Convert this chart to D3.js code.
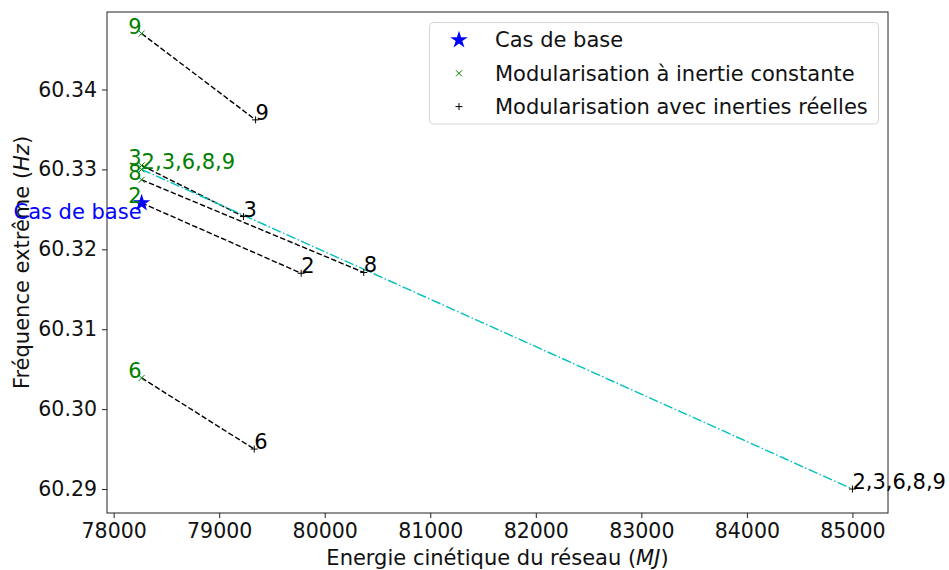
<!doctype html>
<html>
<head>
<meta charset="utf-8">
<title>Fréquence extrême</title>
<script src="https://cdn.jsdelivr.net/npm/d3@7"></script>
<style>
  body { margin: 0; background: #fff; }
  text { font-family: "DejaVu Sans", sans-serif; }
</style>
</head>
<body>
<svg width="949" height="570"></svg>
<script>
// data
var caseNames = ["9", "3", "8", "2", "6"];
var baseEnergy = 78265;                      // energie du cas de base (MJ)
var baseFreq = 60.3258;                      // cas de base (Hz)
var constFreq = [60.3470, 60.3305, 60.3287, 60.3258, 60.3039];   // inertie constante
var realEnergy = [79345, 79230, 80370, 79777, 79332];            // inerties reelles
var realFreq = [60.3362, 60.3241, 60.3171, 60.3170, 60.2950];
var allName = "2,3,6,8,9";
var allConst = { x: 78265, y: 60.3300 };
var allReal = { x: 85000, y: 60.2900 };
var xTicks = [78000, 79000, 80000, 81000, 82000, 83000, 84000, 85000];
var yTicks = [60.29, 60.30, 60.31, 60.32, 60.33, 60.34];
var legendLabels = ["Cas de base", "Modularisation à inertie constante", "Modularisation avec inerties réelles"];

var mLeft = 107, mRight = 888, mTop = 12, mBottom = 513;
var fs = 20.5, fl = 21;
var svg = d3.select("svg");

var x = d3.scaleLinear().domain([77937, 85337]).range([mLeft, mRight]);
var y = d3.scaleLinear().domain([60.287, 60.3497]).range([mBottom, mTop]);

// axes
var xAxis = svg.append("g")
    .attr("transform", "translate(0," + mBottom + ")")
    .call(d3.axisBottom(x).tickValues(xTicks).tickFormat(d3.format("d")).tickSize(5).tickPadding(5));
var yAxis = svg.append("g")
    .attr("transform", "translate(" + mLeft + ",0)")
    .call(d3.axisLeft(y).tickValues(yTicks).tickFormat(d3.format(".2f")).tickSize(5).tickPadding(5));
[xAxis, yAxis].forEach(function(a) {
    a.select(".domain").remove();
    a.selectAll(".tick line").attr("stroke", "#222").attr("stroke-width", 1);
    a.selectAll(".tick text").attr("font-size", fs).attr("fill", "#111")
        .style("font-family", "DejaVu Sans");
});

// frame
svg.append("rect").attr("x", mLeft).attr("y", mTop)
    .attr("width", mRight - mLeft).attr("height", mBottom - mTop)
    .attr("fill", "none").attr("stroke", "#222").attr("stroke-width", 1);

// axis labels
var xl = svg.append("text").attr("x", (mLeft + mRight) / 2).attr("y", 565)
    .attr("text-anchor", "middle").attr("font-size", fl).attr("fill", "#111");
xl.append("tspan").text("Energie cinétique du réseau (");
xl.append("tspan").attr("font-style", "italic").text("MJ");
xl.append("tspan").text(")");

var yl = svg.append("text").attr("transform", "translate(29," + ((mTop + mBottom) / 2) + ") rotate(-90)")
    .attr("text-anchor", "middle").attr("font-size", fl).attr("fill", "#111");
yl.append("tspan").text("Fréquence extrême (");
yl.append("tspan").attr("font-style", "italic").text("Hz");
yl.append("tspan").text(")");

// dashed links from constant to real inertia
caseNames.forEach(function(n, i) {
    svg.append("line")
        .attr("x1", x(baseEnergy)).attr("y1", y(constFreq[i]))
        .attr("x2", x(realEnergy[i])).attr("y2", y(realFreq[i]))
        .attr("stroke", "black").attr("stroke-width", 1.4)
        .attr("stroke-dasharray", "5.5,2.4");
});
svg.append("line")
    .attr("x1", x(allConst.x)).attr("y1", y(allConst.y))
    .attr("x2", x(allReal.x)).attr("y2", y(allReal.y))
    .attr("stroke", "#00bfbf").attr("stroke-width", 1.4)
    .attr("stroke-dasharray", "9.6,2.4,1.5,2.4");

function crossMark(g, cx, cy, col) {
    var s = 3;
    g.append("path").attr("d", "M" + (cx - s) + "," + (cy - s) + "L" + (cx + s) + "," + (cy + s) +
        "M" + (cx - s) + "," + (cy + s) + "L" + (cx + s) + "," + (cy - s))
        .attr("stroke", col).attr("stroke-width", 1).attr("fill", "none");
}
function plusMark(g, cx, cy, col) {
    var s = 3.5;
    g.append("path").attr("d", "M" + (cx - s) + "," + cy + "L" + (cx + s) + "," + cy +
        "M" + cx + "," + (cy - s) + "L" + cx + "," + (cy + s))
        .attr("stroke", col).attr("stroke-width", 1).attr("fill", "none");
}
var star = d3.symbol().type(d3.symbolStar).size(95);

// markers
caseNames.forEach(function(n, i) {
    crossMark(svg, x(baseEnergy), y(constFreq[i]), "green");
    plusMark(svg, x(realEnergy[i]), y(realFreq[i]), "black");
});
crossMark(svg, x(allConst.x), y(allConst.y), "green");
plusMark(svg, x(allReal.x), y(allReal.y), "black");
svg.append("path").attr("d", star)
    .attr("transform", "translate(" + x(baseEnergy) + "," + y(baseFreq) + ")")
    .attr("fill", "blue");

// labels
caseNames.forEach(function(n, i) {
    svg.append("text").attr("x", x(baseEnergy)).attr("y", y(constFreq[i]))
        .attr("text-anchor", "end").attr("font-size", fl).attr("fill", "green").text(n);
    svg.append("text").attr("x", x(realEnergy[i])).attr("y", y(realFreq[i]))
        .attr("font-size", fl).attr("fill", "black").text(n);
});
svg.append("text").attr("x", x(allConst.x)).attr("y", y(allConst.y))
    .attr("font-size", fl).attr("fill", "green").text(allName);
svg.append("text").attr("x", x(allReal.x)).attr("y", y(allReal.y))
    .attr("font-size", fl).attr("fill", "black").text(allName);
svg.append("text").attr("x", x(baseEnergy)).attr("y", y(baseFreq) + 16)
    .attr("text-anchor", "end").attr("font-size", fl).attr("fill", "blue").text("Cas de base");

// legend
var lg = svg.append("g");
lg.append("rect").attr("x", 429.5).attr("y", 22.5).attr("width", 449).attr("height", 101.5)
    .attr("rx", 4).attr("fill", "white").attr("stroke", "#d6d6d6").attr("stroke-width", 1);
legendLabels.forEach(function(t, i) {
    var cy = 40 + i * 33.3;
    if (i === 0) {
        lg.append("path").attr("d", d3.symbol().type(d3.symbolStar).size(95))
            .attr("transform", "translate(459," + cy + ")").attr("fill", "blue");
    } else if (i === 1) {
        crossMark(lg, 459, cy, "green");
    } else {
        plusMark(lg, 459, cy, "black");
    }
    lg.append("text").attr("x", 495).attr("y", cy).attr("dy", "0.35em")
        .attr("font-size", fl).attr("fill", "#111").text(t);
});
</script>
</body>
</html>
